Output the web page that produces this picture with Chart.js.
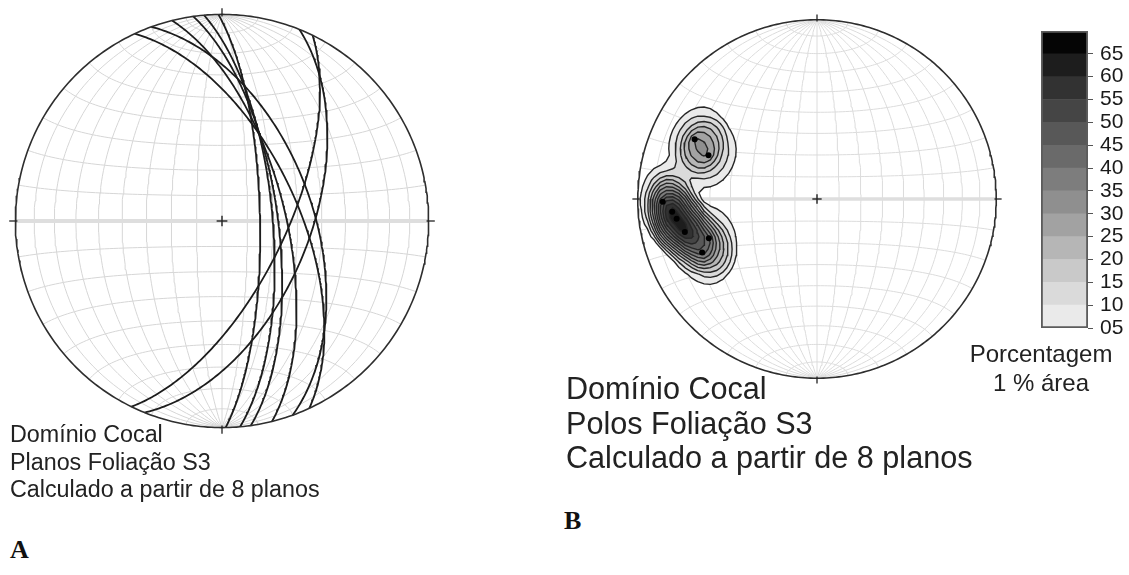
<!DOCTYPE html>
<html>
<head>
<meta charset="utf-8">
<script src="https://cdn.jsdelivr.net/npm/chart.js@4.4.1/dist/chart.umd.min.js"></script>
<style>
  body { margin: 0; background: #fff; width: 1129px; height: 575px; position: relative; overflow: hidden;
         font-family: "Liberation Sans", Arial, sans-serif; color: #222; }
  canvas { position: absolute; }
  .caption { position: absolute; white-space: nowrap; }
  .panel { position: absolute; font-family: "Liberation Serif", "Times New Roman", serif; font-weight: bold; color: #111; }
</style>
</head>
<body>
<canvas id="netA" width="438" height="438" style="left:3px;top:2px"></canvas>
<canvas id="netB" width="388" height="388" style="left:623px;top:5px"></canvas>
<canvas id="scale" width="88" height="317" style="left:1041px;top:21px"></canvas>
<div id="captionA" class="caption" style="left:10px;top:421px;font-size:23.3px;line-height:27.5px"></div>
<div id="captionB" class="caption" style="left:566px;top:371px;font-size:30.6px;line-height:34.5px"></div>
<div id="legendTitle" class="caption" style="left:961px;top:339px;width:160px;text-align:center;font-size:24px;line-height:29px"></div>
<div class="panel" style="left:10px;top:535px;font-size:26px">A</div>
<div class="panel" style="left:564px;top:506px;font-size:26px">B</div>

<script>
// S3 foliation planes read from the net (dip direction / dip, degrees)
const dipDirections = [65, 70, 76, 82, 85, 89, 112, 116];
const dips = [60, 54, 65, 68, 70, 75, 55, 65];

// contour classes (% per 1% area) and their grey fills
const contourLevels = [5, 10, 15, 20, 25, 30, 35, 40, 45, 50, 55, 60, 65];
const levelColors = ['#eaeaea', '#dadada', '#c9c9c9', '#b6b6b6', '#a2a2a2', '#8f8f8f', '#7d7d7d',
                     '#6a6a6a', '#585858', '#454545', '#323232', '#1d1d1d', '#050505'];
const legendLabels = ['05', '10', '15', '20', '25', '30', '35', '40', '45', '50', '55', '60', '65'];
const peakDensity = 64;

const captionA = ['Domínio Cocal', 'Planos Foliação S3', 'Calculado a partir de 8 planos'];
const captionB = ['Domínio Cocal', 'Polos Foliação S3', 'Calculado a partir de 8 planos'];
const legendTitle = ['Porcentagem', '1 % área'];

const NET_STEP = 10;      // grid spacing of the Schmidt net
const K_FLAT = 0.02;      // counting kernel on the sphere: flat top (radians)
const K_ZERO = 0.295;     // counting kernel on the sphere: zero beyond (radians)
const CELL = 0.035;       // contouring grid cell (net radius = 1)

const rad = d => d * Math.PI / 180;

// lower hemisphere equal-area projection of a unit vector (north, east, down)
function project(n, e, d) {
  const k = 1 / Math.sqrt(1 + d);
  return { x: e * k, y: n * k };
}

// inverse of project, points outside the primitive are pulled onto it
function unproject(x, y) {
  let r = Math.hypot(x, y);
  if (r > 1) { x /= r; y /= r; r = 1; }
  const d = 1 - r * r;
  const h = Math.sqrt(Math.max(0, 1 - d * d));
  return r === 0 ? [0, 0, 1] : [y / r * h, x / r * h, d];
}

function netLines() {
  const lines = [];
  for (let lon = -90 + NET_STEP; lon < 90; lon += NET_STEP) {
    const pts = [];
    for (let lat = -90; lat <= 90; lat += 2) {
      const f = rad(lat), l = rad(lon);
      pts.push(project(Math.sin(f), Math.cos(f) * Math.sin(l), Math.cos(f) * Math.cos(l)));
    }
    lines.push(pts);
  }
  for (let lat = -90 + NET_STEP; lat < 90; lat += NET_STEP) {
    if (lat === 0) continue;
    const pts = [];
    for (let lon = -90; lon <= 90; lon += 2) {
      const f = rad(lat), l = rad(lon);
      pts.push(project(Math.sin(f), Math.cos(f) * Math.sin(l), Math.cos(f) * Math.cos(l)));
    }
    lines.push(pts);
  }
  return lines;
}

function greatCircle(dd, dip) {
  const a = rad(dd), b = rad(dip);
  const s = [Math.sin(a), -Math.cos(a), 0];
  const v = [Math.cos(b) * Math.cos(a), Math.cos(b) * Math.sin(a), Math.sin(b)];
  const pts = [];
  for (let t = 0; t <= 180; t++) {
    const c = Math.cos(rad(t)), sn = Math.sin(rad(t));
    pts.push(project(s[0] * c + v[0] * sn, s[1] * c + v[1] * sn, Math.max(0, v[2] * sn)));
  }
  return pts;
}

function poleVector(dd, dip) {
  const a = rad(dd), b = rad(dip);
  return [-Math.sin(b) * Math.cos(a), -Math.sin(b) * Math.sin(a), Math.cos(b)];
}

function primitive() {
  const pts = [];
  for (let t = 0; t <= 360; t++) pts.push({ x: Math.cos(rad(t)), y: Math.sin(rad(t)) });
  return pts;
}

// pole density counted on the sphere, sampled on a square grid of the net;
// the outer ring is left at zero so that every contour closes
function densityField(vectors) {
  const lim = 1.12;
  const n = Math.round(2 * lim / CELL) + 1;
  const xs = [];
  for (let i = 0; i < n; i++) xs.push(-lim + i * CELL);
  const grid = [];
  let max = 0;
  for (let j = 0; j < n; j++) {
    const row = [];
    for (let i = 0; i < n; i++) {
      let s = 0;
      if (i > 0 && j > 0 && i < n - 1 && j < n - 1) {
        const g = unproject(xs[i], xs[j]);
        vectors.forEach(p => {
          const ang = Math.acos(Math.min(1, Math.abs(g[0] * p[0] + g[1] * p[1] + g[2] * p[2])));
          s += Math.min(1, Math.max(0, (K_ZERO - ang) / (K_ZERO - K_FLAT)));
        });
      }
      max = Math.max(max, s);
      row.push(s);
    }
    grid.push(row);
  }
  const k = peakDensity / max;
  return { xs, grid: grid.map(r => r.map(v => v * k)) };
}

const CASES = {
  1: [[3, 0]], 2: [[0, 1]], 3: [[3, 1]], 4: [[1, 2]], 5: [[3, 0], [1, 2]], 6: [[0, 2]], 7: [[3, 2]],
  8: [[2, 3]], 9: [[0, 2]], 10: [[0, 1], [2, 3]], 11: [[1, 2]], 12: [[1, 3]], 13: [[0, 1]], 14: [[0, 3]]
};

// marching squares, chained into closed rings
function contourRings(field, level) {
  const { xs, grid } = field;
  const n = xs.length;
  const pts = new Map();
  const segs = [];
  const edge = (t, i, j) => {
    const key = t + i + '_' + j;
    if (!pts.has(key)) {
      const a = grid[j][i];
      const b = t === 'h' ? grid[j][i + 1] : grid[j + 1][i];
      const f = (level - a) / (b - a);
      pts.set(key, t === 'h' ? { x: xs[i] + f * CELL, y: xs[j] } : { x: xs[i], y: xs[j] + f * CELL });
    }
    return key;
  };
  for (let j = 0; j < n - 1; j++) {
    for (let i = 0; i < n - 1; i++) {
      const c = (grid[j][i] > level ? 1 : 0) | (grid[j][i + 1] > level ? 2 : 0) |
                (grid[j + 1][i + 1] > level ? 4 : 0) | (grid[j + 1][i] > level ? 8 : 0);
      if (c === 0 || c === 15) continue;
      const e = [() => edge('h', i, j), () => edge('v', i + 1, j), () => edge('h', i, j + 1), () => edge('v', i, j)];
      CASES[c].forEach(([a, b]) => segs.push([e[a](), e[b]()]));
    }
  }
  const adj = new Map();
  const link = (a, b) => { if (!adj.has(a)) adj.set(a, []); adj.get(a).push(b); };
  segs.forEach(([a, b]) => { link(a, b); link(b, a); });
  const rings = [];
  for (const start of adj.keys()) {
    while (adj.get(start).length) {
      const ring = [start];
      let cur = start;
      while (true) {
        const list = adj.get(cur);
        if (!list.length) break;
        const nxt = list.pop();
        const back = adj.get(nxt);
        back.splice(back.indexOf(cur), 1);
        if (nxt === start) break;
        ring.push(nxt);
        cur = nxt;
      }
      const poly = ring.map(k => {
        const p = pts.get(k), r = Math.hypot(p.x, p.y);
        return r > 1 ? { x: p.x / r, y: p.y / r } : { x: p.x, y: p.y };
      });
      poly.push(poly[0]);
      rings.push(poly);
    }
  }
  return rings;
}

function lineDs(points, color, width, extra) {
  return Object.assign({ data: points, borderColor: color, borderWidth: width, pointRadius: 0, fill: false, tension: 0 }, extra || {});
}

// first pushed is drawn first (at the bottom)
function ordered(list) {
  list.forEach((ds, i) => { ds.order = list.length - i; });
  return list;
}

function frame(list, gridColor, eqWidth) {
  netLines().forEach(l => list.push(lineDs(l, gridColor, 1)));
  list.push(lineDs([{ x: -1, y: 0 }, { x: 1, y: 0 }], '#dedede', eqWidth));
}

function marks(list, tick) {
  list.push(lineDs(primitive(), '#2e2e2e', 1.6));
  [[0, 1], [0, -1], [1, 0], [-1, 0]].forEach(([a, b]) => {
    list.push(lineDs([{ x: a * 0.99, y: b * 0.99 }, { x: a * (1 + tick), y: b * (1 + tick) }], '#222', 1.3));
  });
  const c = 0.026;
  list.push(lineDs([{ x: -c, y: 0 }, { x: c, y: 0 }], '#222', 1.4));
  list.push(lineDs([{ x: 0, y: -c }, { x: 0, y: c }], '#222', 1.4));
}

function netChart(id, datasets) {
  return new Chart(document.getElementById(id), {
    type: 'line',
    data: { datasets: ordered(datasets) },
    options: {
      responsive: false,
      animation: false,
      events: [],
      layout: { padding: 0 },
      plugins: { legend: { display: false }, tooltip: { enabled: false } },
      scales: {
        x: { type: 'linear', min: -1.06, max: 1.06, display: false },
        y: { type: 'linear', min: -1.06, max: 1.06, display: false }
      }
    }
  });
}

// A: great circles
const dsA = [];
frame(dsA, '#d6d6d6', 4);
dipDirections.forEach((dd, i) => dsA.push(lineDs(greatCircle(dd, dips[i]), '#1c1c1c', 1.8)));
marks(dsA, 0.03);
netChart('netA', dsA);

// B: pole density
const poleVectors = dipDirections.map((dd, i) => poleVector(dd, dips[i]));
const field = densityField(poleVectors);
const dsB = [];
frame(dsB, '#dcdcdc', 3.5);
contourLevels.forEach((lev, li) => {
  contourRings(field, lev).forEach(ring => {
    dsB.push(lineDs(ring, '#262626', 1.4, { fill: 'shape', backgroundColor: levelColors[li] }));
  });
});
marks(dsB, 0.03);
dsB.push({ data: poleVectors.map(p => project(p[0], p[1], p[2])), showLine: false, pointRadius: 3,
           pointBackgroundColor: '#000', pointBorderWidth: 0 });
netChart('netB', dsB);

// colour scale
new Chart(document.getElementById('scale'), {
  type: 'bar',
  data: {
    labels: [''],
    datasets: [
      { data: [[5, 70]], backgroundColor: 'rgba(0,0,0,0)', borderColor: '#5c5c5c', borderWidth: 1.5,
        borderSkipped: false, grouped: false, order: 0 }
    ].concat(contourLevels.map((lev, i) => ({
      data: [[lev, lev + 5]], backgroundColor: levelColors[i], borderWidth: 0, grouped: false, order: 1
    })))
  },
  options: {
    responsive: false,
    animation: false,
    events: [],
    layout: { padding: { top: 10, bottom: 10, left: 0, right: 0 } },
    plugins: { legend: { display: false }, tooltip: { enabled: false } },
    datasets: { bar: { barPercentage: 1, categoryPercentage: 1 } },
    scales: {
      x: { display: false },
      y: {
        position: 'right', min: 5, max: 70,
        afterFit: s => { s.width = 41; s.paddingTop = 0; s.paddingBottom = 0; },
        ticks: {
          stepSize: 5, autoSkip: false, padding: 7, color: '#1a1a1a',
          font: { family: 'Liberation Sans', size: 21, lineHeight: 1 },
          callback: v => { const i = contourLevels.indexOf(v); return i < 0 ? null : legendLabels[i]; }
        },
        grid: { drawOnChartArea: false, tickLength: 5, color: '#555' },
        border: { display: false }
      }
    }
  }
});

document.getElementById('captionA').innerHTML = captionA.join('<br>');
document.getElementById('captionB').innerHTML = captionB.join('<br>');
document.getElementById('legendTitle').innerHTML = legendTitle.join('<br>');
</script>
</body>
</html>
